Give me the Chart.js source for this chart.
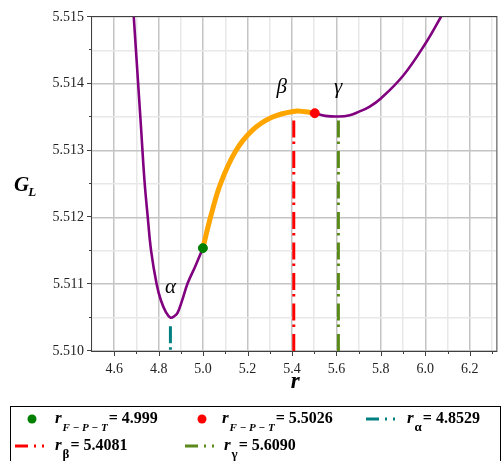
<!DOCTYPE html>
<html>
<head>
<meta charset="utf-8">
<script src="https://cdn.jsdelivr.net/npm/chart.js@4.4.0/dist/chart.umd.min.js"></script>
<style>
    html, body { margin: 0; padding: 0; background: #fff; }
    #wrap { width: 502px; height: 461px; position: relative; }
</style>
</head>
<body>
<div id="wrap"><canvas id="chart" width="502" height="461"></canvas></div>
<script>
// G_L(r)
const leftR = [4.680, 4.688, 4.700, 4.720, 4.736, 4.751, 4.766, 4.791, 4.810, 4.833, 4.8529, 4.870, 4.885, 4.905, 4.930, 4.965, 4.999];
const leftG = [5.51540, 5.51500, 5.51439, 5.51338, 5.51256, 5.51200, 5.51150, 5.51100, 5.51076, 5.51058, 5.51050, 5.51052, 5.51057, 5.51075, 5.51101, 5.51127, 5.51154];

const orangeR = [4.999, 5.034, 5.079, 5.146, 5.220, 5.310, 5.414, 5.460, 5.5026];
const orangeG = [5.51154, 5.51201, 5.51251, 5.51299, 5.51330, 5.51350, 5.51359, 5.51358, 5.51356];

const rightR = [5.5026, 5.550, 5.609, 5.660, 5.700, 5.750, 5.800, 5.900, 6.000, 6.070, 6.090];
const rightG = [5.51356, 5.51352, 5.51351, 5.51353, 5.51358, 5.51366, 5.51378, 5.51412, 5.51460, 5.51500, 5.51512];

// critical points (F-P-T)
const criticalR = [4.999, 5.5026];
const criticalG = [5.51154, 5.51356];

// vertical markers r_alpha, r_beta, r_gamma
const markerR = [4.8529, 5.4081, 5.6090];
const markerTop = [5.51037, 5.51345, 5.51345];
const markerColors = ['#008080', '#ff0000', '#5a8a1a'];

// axis ranges and labelled ticks
const xMin = 4.5, xMax = 6.32;
const yMin = 5.510, yMax = 5.515;
const xLabelValues = [4.6, 4.8, 5.0, 5.2, 5.4, 5.6, 5.8, 6.0, 6.2];
const yLabelValues = [5.510, 5.511, 5.512, 5.513, 5.514, 5.515];

// greek labels on the curve
const noteText = ['α', 'β', 'γ'];
const noteR = [4.853, 5.354, 5.608];
const noteG = [5.51095, 5.51395, 5.51395];

// legend
const legendSubs = ['F − P − T', 'F − P − T', 'α', 'β', 'γ'];
const legendValues = ['= 4.999', '= 5.5026', '= 4.8529', '= 5.4081', '= 5.6090'];

const SERIF = '"Liberation Serif", "Times New Roman", serif';

function toPoints(xs, ys) {
    return xs.map((x, i) => ({ x: x, y: ys[i] }));
}

function isLabelled(v, list) {
    return list.some(l => Math.abs(l - v) < 1e-7);
}

// frame, tick marks, titles, greek notes and the legend
const decorPlugin = {
    id: 'decor',
    afterDraw(chart) {
        const ctx = chart.ctx;
        const a = chart.chartArea;
        const xs = chart.scales.x;
        const ys = chart.scales.y;
        ctx.save();

        // frame
        ctx.strokeStyle = '#404040';
        ctx.lineWidth = 1;
        ctx.strokeRect(a.left - 0.5, a.top - 0.5, a.right - a.left + 1, a.bottom - a.top + 1);

        // tick marks
        ctx.beginPath();
        xs.ticks.forEach(t => {
            if (t.value <= xMin + 1e-7 || t.value >= xMax - 1e-7) return;
            const px = Math.round(xs.getPixelForValue(t.value)) + 0.5;
            const len = isLabelled(t.value, xLabelValues) ? 5 : 3;
            ctx.moveTo(px, a.bottom);
            ctx.lineTo(px, a.bottom + len);
        });
        ys.ticks.forEach(t => {
            const py = Math.round(ys.getPixelForValue(t.value)) - 0.5;
            const len = isLabelled(t.value, yLabelValues) ? 5 : 3;
            ctx.moveTo(a.left, py);
            ctx.lineTo(a.left - len, py);
        });
        ctx.stroke();

        // axis titles
        ctx.fillStyle = '#000';
        ctx.textBaseline = 'alphabetic';
        ctx.textAlign = 'left';
        ctx.font = 'italic bold 21px ' + SERIF;
        ctx.fillText('G', 14, 191);
        const gw = ctx.measureText('G').width;
        ctx.font = 'italic bold 13px ' + SERIF;
        ctx.fillText('L', 14 + gw - 1, 196);

        ctx.textAlign = 'center';
        ctx.font = 'italic bold 23px ' + SERIF;
        ctx.fillText('r', (a.left + a.right) / 2 + 1, 388);

        // greek notes
        ctx.font = 'italic 21px ' + SERIF;
        ctx.textBaseline = 'middle';
        noteText.forEach((txt, i) => {
            ctx.fillText(txt, xs.getPixelForValue(noteR[i]), ys.getPixelForValue(noteG[i]));
        });

        // legend box
        ctx.strokeStyle = '#000';
        ctx.lineWidth = 1;
        ctx.strokeRect(10.5, 406.5, 490, 80);

        const slots = [
            { mx: 15, tx: 55, y: 423, kind: 'dot', color: '#008000' },
            { mx: 185, tx: 222, y: 423, kind: 'dot', color: '#ff0000' },
            { mx: 366, tx: 407, y: 423, kind: 'dash', color: markerColors[0] },
            { mx: 15, tx: 55, y: 450, kind: 'dash', color: markerColors[1] },
            { mx: 185, tx: 224, y: 450, kind: 'dash', color: markerColors[2] }
        ];
        ctx.textAlign = 'left';
        ctx.textBaseline = 'alphabetic';
        slots.forEach((s, i) => {
            const cy = s.y - 4;
            if (s.kind === 'dot') {
                ctx.fillStyle = s.color;
                ctx.beginPath();
                ctx.arc(s.mx + 17, cy, 4.5, 0, Math.PI * 2);
                ctx.fill();
            } else {
                ctx.strokeStyle = s.color;
                ctx.lineWidth = 3;
                ctx.setLineDash([13, 6, 2, 6, 2, 20]);
                ctx.beginPath();
                ctx.moveTo(s.mx, cy);
                ctx.lineTo(s.mx + 35, cy);
                ctx.stroke();
                ctx.setLineDash([]);
            }
            ctx.fillStyle = '#000';
            let x = s.tx;
            ctx.font = 'italic bold 17px ' + SERIF;
            ctx.fillText('r', x, s.y);
            x += ctx.measureText('r').width + 1;
            const greek = i >= 2;
            ctx.font = (greek ? 'bold 13px ' : 'italic bold 11px ') + SERIF;
            ctx.fillText(legendSubs[i], x, s.y + 8);
            x += ctx.measureText(legendSubs[i]).width + 1;
            ctx.font = 'bold 16px ' + SERIF;
            ctx.fillText(legendValues[i], x, s.y);
        });

        ctx.restore();
    }
};

const lineBase = {
    showLine: true,
    pointRadius: 0,
    pointHoverRadius: 0,
    tension: 0.4,
    fill: false
};

const datasets = [
    {
        label: 'r_F-P-T = 4.999',
        data: [{ x: criticalR[0], y: criticalG[0] }],
        pointRadius: 4.5,
        backgroundColor: '#008000',
        borderColor: '#008000',
        showLine: false
    },
    {
        label: 'r_F-P-T = 5.5026',
        data: [{ x: criticalR[1], y: criticalG[1] }],
        pointRadius: 4.5,
        backgroundColor: '#ff0000',
        borderColor: '#ff0000',
        showLine: false
    },
    Object.assign({}, lineBase, {
        label: 'orange',
        data: toPoints(orangeR, orangeG),
        borderColor: '#ffa500',
        borderWidth: 5
    }),
    Object.assign({}, lineBase, {
        label: 'left',
        data: toPoints(leftR, leftG),
        borderColor: '#800080',
        borderWidth: 2.6
    }),
    Object.assign({}, lineBase, {
        label: 'right',
        data: toPoints(rightR, rightG),
        borderColor: '#800080',
        borderWidth: 2.6
    })
];

markerR.forEach((r, i) => {
    datasets.push({
        label: 'marker' + i,
        data: [{ x: r, y: markerTop[i] }, { x: r, y: yMin }],
        showLine: true,
        pointRadius: 0,
        borderColor: markerColors[i],
        borderWidth: 3,
        borderDash: [17, 4, 2.5, 7]
    });
});

new Chart(document.getElementById('chart'), {
    type: 'scatter',
    data: { datasets: datasets },
    plugins: [decorPlugin],
    options: {
        responsive: false,
        animation: false,
        devicePixelRatio: 1,
        layout: { padding: { top: 17, right: 3, left: 0, bottom: 0 } },
        plugins: {
            legend: { display: false },
            tooltip: { enabled: false }
        },
        scales: {
            x: {
                type: 'linear',
                min: xMin,
                max: xMax,
                afterFit: scale => { scale.height = 110; },
                border: { display: false },
                grid: {
                    drawTicks: false,
                    lineWidth: 1.5,
                    color: c => isLabelled(c.tick.value, xLabelValues) ? '#c4c4c4' : '#e8e8e8'
                },
                ticks: {
                    stepSize: 0.1,
                    includeBounds: false,
                    autoSkip: false,
                    maxRotation: 0,
                    padding: 10,
                    color: '#222',
                    font: { family: SERIF, size: 14 },
                    callback: v => isLabelled(v, xLabelValues) ? v.toFixed(1) : ''
                }
            },
            y: {
                type: 'linear',
                min: yMin,
                max: yMax,
                afterFit: scale => { scale.width = 92; },
                border: { display: false },
                grid: {
                    drawTicks: false,
                    lineWidth: 1.5,
                    color: c => isLabelled(c.tick.value, yLabelValues) ? '#c4c4c4' : '#e8e8e8'
                },
                ticks: {
                    stepSize: 0.0005,
                    includeBounds: false,
                    autoSkip: false,
                    padding: 8,
                    color: '#222',
                    font: { family: SERIF, size: 14 },
                    callback: v => isLabelled(v, yLabelValues) ? v.toFixed(3) : ''
                }
            }
        }
    }
});
</script>
</body>
</html>
